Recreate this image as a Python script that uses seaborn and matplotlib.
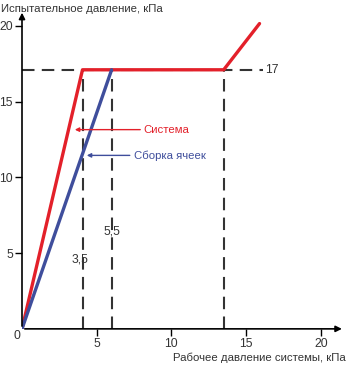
import pandas as pd
import matplotlib.pyplot as plt
import seaborn as sns

# Данные кривых
sistema_x = [0, 4.05, 13.5, 15.9]
sistema_y = [0, 17.1, 17.1, 20.15]
sborka_x = [0, 6.0]
sborka_y = [0, 17.1]

# Пунктирные линии
vert_x = [4.1, 6.0, 13.5]
horiz_y = 17.1
vert_labels = ["3,5", "5,5"]

x_ticks = [5, 10, 15, 20]
y_ticks = [5, 10, 15, 20]

df = pd.concat([
    pd.DataFrame({"x": sistema_x, "y": sistema_y, "series": "Система"}),
    pd.DataFrame({"x": sborka_x, "y": sborka_y, "series": "Сборка ячеек"}),
])

sns.set_style("ticks")
plt.rcParams["font.family"] = ["Liberation Sans", "DejaVu Sans"]

fig = plt.figure(figsize=(3.47, 3.65), dpi=100)
ax = fig.add_axes([0.0634, 0.099, 0.917, 0.88])

red = "#e3202a"
blue = "#3f4e9c"
dash_col = "#333333"
txt_col = "#333333"

# пунктир
for xv in vert_x:
    ax.plot([xv, xv], [0, horiz_y], color=dash_col, lw=1.5, ls=(0, (6, 3.5)), zorder=1)
ax.plot([0, 16.1], [horiz_y, horiz_y], color=dash_col, lw=1.5, ls=(0, (6, 3.5)), zorder=1)

sns.lineplot(data=df, x="x", y="y", hue="series", sort=False,
             palette={"Система": red, "Сборка ячеек": blue},
             lw=2.4, legend=False, ax=ax, zorder=3)

ax.text(16.3, horiz_y, "17", ha="left", va="center", fontsize=8.7, color=txt_col)
ax.text(3.9, 4.6, vert_labels[0], ha="center", va="center", fontsize=8.7, color=txt_col)
ax.text(6.0, 6.4, vert_labels[1], ha="center", va="center", fontsize=8.7, color=txt_col)

# подписи со стрелками
ax.annotate("", xy=(3.35, 13.15), xytext=(8.1, 13.15),
            arrowprops=dict(arrowstyle="-|>", color=red, lw=1.0, mutation_scale=6))
ax.text(8.1, 13.15, "Система", color=red, fontsize=8.2, ha="left", va="center")
ax.annotate("", xy=(4.15, 11.45), xytext=(7.4, 11.45),
            arrowprops=dict(arrowstyle="-|>", color=blue, lw=1.0, mutation_scale=6))
ax.text(7.5, 11.45, "Сборка ячеек", color=blue, fontsize=8.2, ha="left", va="center")

ax.set_xlim(0, 21.3)
ax.set_ylim(0, 21.2)
ax.set_xticks(x_ticks)
ax.set_yticks(y_ticks)
ax.tick_params(axis="both", labelsize=8.7, length=5, width=1,
               direction="out", pad=1.5, colors="black", labelcolor=txt_col,
               bottom=True, left=True)
for s in ["top", "right", "left", "bottom"]:
    ax.spines[s].set_visible(False)

# оси со стрелками
ax.annotate("", xy=(21.6, 0), xytext=(0, 0), xycoords="data",
            arrowprops=dict(arrowstyle="-|>", color="black", lw=1.2, mutation_scale=9),
            annotation_clip=False)
ax.annotate("", xy=(0, 21.05), xytext=(0, 0), xycoords="data",
            arrowprops=dict(arrowstyle="-|>", color="black", lw=1.2, mutation_scale=9),
            annotation_clip=False)

ax.set_xlabel("")
ax.set_ylabel("")
fig.text(0.003, 0.99, "Испытательное давление, кПа", fontsize=8.2, color=txt_col,
         ha="left", va="top")
fig.text(0.995, 0.02, "Рабочее давление системы, кПа", fontsize=8.2, color=txt_col,
         ha="right", va="center")
fig.text(0.048, 0.08, "0", fontsize=8.7, color=txt_col, ha="center", va="center")

plt.savefig("out.png", dpi=100)
